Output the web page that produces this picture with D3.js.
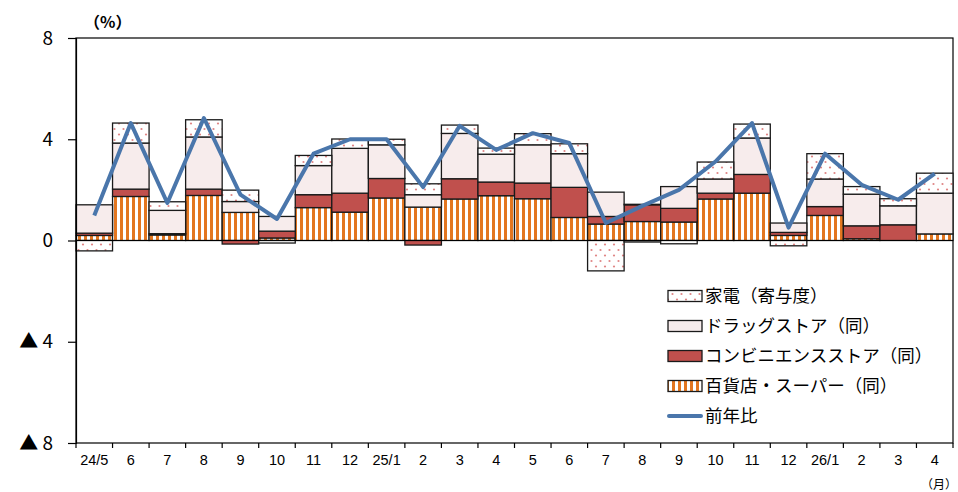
<!DOCTYPE html>
<html><head><meta charset="utf-8">
<script src="https://cdn.jsdelivr.net/npm/d3@7"></script>
<style>
body{margin:0;background:#fff;}
svg{display:block;font-family:"Liberation Sans","Noto Sans CJK JP",sans-serif;}
.jp{font-family:"Noto Sans CJK JP",sans-serif;}
</style></head>
<body><svg id="c" width="958" height="492"></svg>
<script>
const categories = ["24/5","6","7","8","9","10","11","12","25/1","2","3","4","5","6","7","8","9","10","11","12","26/1","2","3","4"];
const dept   = [0.20,1.74,0.22,1.78,1.11,0.10,1.30,1.12,1.68,1.32,1.64,1.77,1.65,0.91,0.65,0.75,0.73,1.64,1.87,0.20,0.99,0.07,0.00,0.26];
const conv   = [0.09,0.29,0.05,0.25,-0.14,0.27,0.51,0.75,0.77,-0.18,0.80,0.54,0.62,1.19,0.30,0.66,0.54,0.23,0.74,0.12,0.35,0.51,0.62,0.00];
const drug   = [1.12,1.82,0.92,2.06,0.43,0.58,1.15,1.77,1.33,0.49,1.79,1.10,1.51,1.33,0.96,0.02,0.86,0.56,1.44,0.37,1.09,1.25,0.75,1.61];
const appl   = [-0.41,0.79,0.34,0.68,0.45,-0.10,0.40,0.37,0.22,0.43,0.33,0.24,0.44,0.39,-1.20,-0.06,-0.13,0.67,0.55,-0.21,1.00,0.30,0.28,0.79];
const yoy    = [0.99,4.64,1.48,4.84,1.81,0.85,3.43,4.00,4.00,2.11,4.53,3.58,4.24,3.85,0.69,1.37,2.00,3.12,4.64,0.51,3.43,2.20,1.61,2.64];
const yTicks = [8,4,0,-4,-8];
const yTickLabels = ["8","4","0","▲ 4","▲ 8"];
const seriesNames = ["百貨店・スーパー（同）","コンビニエンスストア（同）","ドラッグストア（同）","家電（寄与度）"];
const lineName = "前年比";

const W=958,H=492, m={l:76,r:5,t:38,b:49};
const svg=d3.select("#c");
const defs=svg.append("defs");
const pO=defs.append("pattern").attr("id","pOrange").attr("patternUnits","userSpaceOnUse").attr("width",6).attr("height",6);
pO.append("rect").attr("width",6).attr("height",6).attr("fill","#fff");
pO.append("rect").attr("width",3).attr("height",6).attr("fill","#E3761F");
const pD=defs.append("pattern").attr("id","pDots").attr("patternUnits","userSpaceOnUse").attr("width",9).attr("height",11);
pD.append("rect").attr("width",9).attr("height",11).attr("fill","#fff");
pD.append("circle").attr("cx",2).attr("cy",2.5).attr("r",1.1).attr("fill","#E08585");
pD.append("circle").attr("cx",6.5).attr("cy",8).attr("r",1.1).attr("fill","#E08585");

const fills=["url(#pOrange)","#C0504D","#F7ECEC","url(#pDots)"];

const idx=d3.range(categories.length);
const x=d3.scaleBand().domain(idx).range([m.l,W-m.r]).padding(0);
const y=d3.scaleLinear().domain([-8,8]).range([H-m.b,m.t]);

const rows=idx.map(i=>({i,s0:dept[i],s1:conv[i],s2:drug[i],s3:appl[i]}));
const stack=d3.stack().keys(["s0","s1","s2","s3"]).offset(d3.stackOffsetDiverging)(rows);

// frame
svg.append("rect").attr("x",m.l).attr("y",m.t).attr("width",W-m.r-m.l).attr("height",H-m.b-m.t)
  .attr("fill","none").attr("stroke","#000").attr("stroke-width",1.2);

stack.forEach((layer,k)=>{
  svg.append("g").selectAll("rect").data(layer.filter(d=>d[0]!==d[1])).join("rect")
    .attr("x",d=>x(d.data.i)).attr("width",x.bandwidth())
    .attr("y",d=>y(Math.max(d[0],d[1]))).attr("height",d=>Math.abs(y(d[0])-y(d[1])))
    .attr("fill",fills[k]).attr("stroke","#1a1a1a").attr("stroke-width",1.3);
});

// zero line
svg.append("line").attr("x1",m.l).attr("x2",W-m.r).attr("y1",y(0)).attr("y2",y(0)).attr("stroke","#000").attr("stroke-width",1.2);

// line
svg.append("path").datum(yoy).attr("fill","none").attr("stroke","#4A76AB").attr("stroke-width",4).attr("stroke-linejoin","round")
  .attr("d",d3.line().x((d,i)=>x(i)+x.bandwidth()/2).y(d=>y(d)));

// y axis
const ya=svg.append("g").attr("transform",`translate(${m.l},0)`)
  .call(d3.axisLeft(y).tickValues(yTicks).tickSize(8).tickFormat((d,i)=>yTickLabels[i]));
ya.select(".domain").attr("stroke","#000").attr("stroke-width",1.2);
ya.selectAll(".tick line").attr("stroke","#000").attr("stroke-width",1.2);
ya.selectAll(".tick text").attr("x",-23).attr("font-size",19).attr("fill","#000")
  .attr("font-family","'Noto Sans CJK JP', sans-serif");

// x axis
const xa=svg.append("g").attr("transform",`translate(0,${H-m.b})`)
  .call(d3.axisBottom(x).tickSize(0).tickPadding(12).tickFormat(i=>categories[i]));
xa.select(".domain").remove();
xa.selectAll(".tick text").attr("font-size",14.5).attr("fill","#000");
const bounds=idx.map(i=>x(i)).concat([W-m.r]);
svg.append("g").selectAll("line").data(bounds).join("line")
  .attr("x1",d=>d).attr("x2",d=>d).attr("y1",H-m.b).attr("y2",H-m.b+5).attr("stroke","#000").attr("stroke-width",1.2);

svg.append("text").attr("class","jp").attr("x",84).attr("y",28).attr("font-size",16).attr("font-weight","bold").text("（%）");
svg.append("text").attr("class","jp").attr("x",957).attr("y",489).attr("text-anchor","end").attr("font-size",12).text("（月）");

// legend
const lg=svg.append("g");
const legendItems=[[3,seriesNames[3]],[2,seriesNames[2]],[1,seriesNames[1]],[0,seriesNames[0]]];
legendItems.forEach(([k,name],i)=>{
  const cy=296+i*30;
  lg.append("rect").attr("x",668).attr("y",cy-5.5).attr("width",34).attr("height",11).attr("fill",fills[k]).attr("stroke","#1a1a1a").attr("stroke-width",1.3);
  lg.append("text").attr("class","jp").attr("x",705).attr("y",cy).attr("dy","0.36em").attr("font-size",17.5).text(name);
});
const ly=296+4*30;
lg.append("line").attr("x1",669).attr("x2",701).attr("y1",ly).attr("y2",ly).attr("stroke","#4A76AB").attr("stroke-width",4).attr("stroke-linecap","round");
lg.append("text").attr("class","jp").attr("x",705).attr("y",ly).attr("dy","0.36em").attr("font-size",17.5).text(lineName);
</script></body></html>
